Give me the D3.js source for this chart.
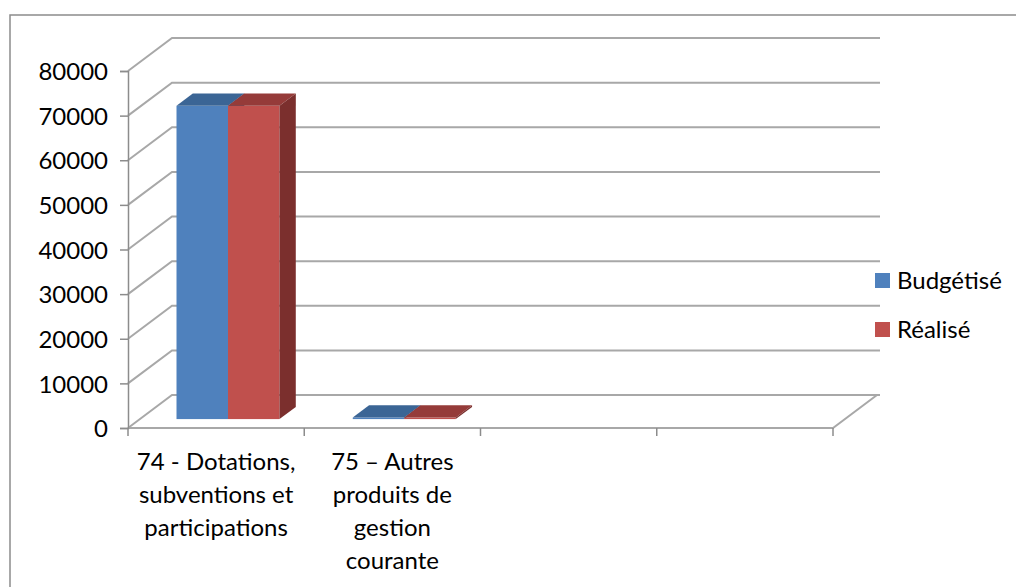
<!DOCTYPE html>
<html>
<head>
<meta charset="utf-8">
<script src="https://cdn.jsdelivr.net/npm/d3@7"></script>
<style>
  body { margin: 0; background: #fff; }
  text { font-family: Lato, 'Liberation Sans', sans-serif; fill: #000; }
</style>
</head>
<body>
<div id="chart"></div>
<script>
const categories = [
  ['74 - Dotations,', 'subventions et', 'participations'],
  ['75 – Autres', 'produits de', 'gestion', 'courante'],
  [],
  []
];
const series = ['Budgétisé', 'Réalisé'];
const budgetise = [70200, 350, null, null];
const realise = [70200, 350, null, null];
const yTicks = [0, 10000, 20000, 30000, 40000, 50000, 60000, 70000, 80000];

const colors = {
  'Budgétisé': { front: '#4f81bd', top: '#3b6595', side: '#345a86' },
  'Réalisé': { front: '#c0504d', top: '#953b39', side: '#7b2f2d' }
};

const w = 1016, h = 587;
const depthX = 44, depthY = -33;      // wall depth
const barZ0 = 0.27, barZ1 = 0.64;     // bar depth as share of wall depth
const fs = '24px';

const svg = d3.select('#chart')
  .append('svg')
  .attr('width', w)
  .attr('height', h);

// outer frame
svg.append('rect')
  .attr('x', 10).attr('y', 15)
  .attr('width', 1020).attr('height', 600)
  .attr('fill', 'none')
  .attr('stroke', '#8c8c8c')
  .attr('stroke-width', 1.5);

const y = d3.scaleLinear().domain([0, 80000]).range([428, 71]);
const x = d3.scaleBand().domain(d3.range(categories.length)).range([128, 833]);
const xs = d3.scaleBand().domain(series).range([0, 103]);

const grid = svg.append('g')
  .attr('fill', 'none')
  .attr('stroke', '#a8a8a8')
  .attr('stroke-width', 2);

// gridlines on left wall and back wall
yTicks.forEach(t => {
  grid.append('path')
    .attr('d', `M${x.range()[0]},${y(t)} L${x.range()[0] + depthX},${y(t) + depthY} L${x.range()[1] + depthX + 3},${y(t) + depthY}`);
});

// floor front + right edge
grid.append('path')
  .attr('d', `M${x.range()[0]},${y(0)} L${x.range()[1]},${y(0)} L${x.range()[1] + depthX},${y(0) + depthY}`);

// y axis
const yAxis = d3.axisLeft(y).tickValues(yTicks).tickSize(8).tickPadding(12).tickFormat(d3.format('d'));
const ya = svg.append('g')
  .attr('transform', `translate(${x.range()[0]},0)`)
  .call(yAxis);
ya.select('.domain').attr('stroke', '#8c8c8c').attr('stroke-width', 1.5);
ya.selectAll('.tick line').attr('stroke', '#8c8c8c').attr('stroke-width', 1.5);
ya.selectAll('.tick text').style('font-size', fs).style('font-family', 'Lato, sans-serif').attr('dy', '0.36em');

// x axis ticks
svg.append('g')
  .selectAll('line')
  .data(d3.range(categories.length + 1))
  .enter()
  .append('line')
  .attr('x1', i => x.range()[0] + i * x.bandwidth())
  .attr('x2', i => x.range()[0] + i * x.bandwidth())
  .attr('y1', y(0))
  .attr('y2', y(0) + 8)
  .attr('stroke', '#8c8c8c')
  .attr('stroke-width', 1.5);

// category labels
categories.forEach((lines, i) => {
  const t = svg.append('text')
    .attr('x', x(i) + x.bandwidth() / 2)
    .attr('y', 470)
    .attr('text-anchor', 'middle')
    .style('font-size', fs);
  lines.forEach((l, j) => {
    t.append('tspan')
      .attr('x', x(i) + x.bandwidth() / 2)
      .attr('y', 470 + j * 33)
      .text(l);
  });
});

// bars
const bars = [];
categories.forEach((c, i) => {
  [budgetise, realise].forEach((vals, k) => {
    if (vals[i] != null) bars.push({ cat: i, s: series[k], v: vals[i] });
  });
});

const ox0 = depthX * barZ0, oy0 = depthY * barZ0;
const ddx = depthX * (barZ1 - barZ0), ddy = depthY * (barZ1 - barZ0);

const bg = svg.append('g');
bars.forEach(b => {
  const left = x(b.cat) + (x.bandwidth() - 103) / 2 + xs(b.s) + ox0;
  const right = left + xs.bandwidth();
  const top = y(b.v) + oy0;
  const bottom = y(0) + oy0;
  const col = colors[b.s];
  bg.append('rect')
    .attr('x', left).attr('y', top)
    .attr('width', right - left).attr('height', bottom - top)
    .attr('fill', col.front);
  bg.append('path')
    .attr('d', `M${left},${top} L${left + ddx},${top + ddy} L${right + ddx},${top + ddy} L${right},${top} Z`)
    .attr('fill', col.top);
  bg.append('path')
    .attr('d', `M${right},${top} L${right + ddx},${top + ddy} L${right + ddx},${bottom + ddy} L${right},${bottom} Z`)
    .attr('fill', col.side);
});

// legend
const legend = svg.append('g')
  .selectAll('g')
  .data(series)
  .enter()
  .append('g')
  .attr('transform', (d, i) => `translate(875,${273 + i * 49})`);

legend.append('rect')
  .attr('width', 15).attr('height', 15)
  .attr('fill', d => colors[d].front);

legend.append('text')
  .attr('x', 22).attr('y', 16)
  .style('font-size', fs)
  .text(d => d);
</script>
</body>
</html>
